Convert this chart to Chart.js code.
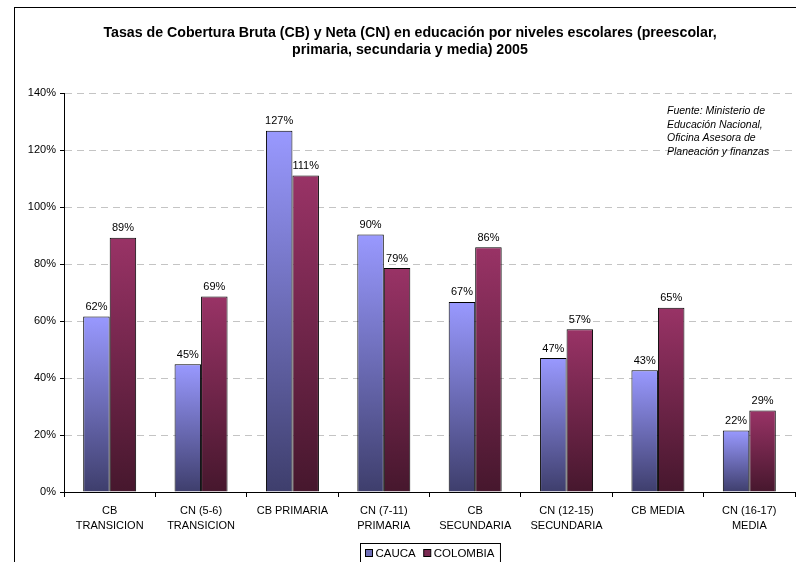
<!DOCTYPE html>
<html lang="es">
<head>
  <meta charset="UTF-8" />
  <title>Tasas de Cobertura</title>
  <style>
    html, body { margin: 0; padding: 0; background: #fff; overflow: hidden; }
    #frame { position: absolute; left: 14px; top: 7px; width: 790px; height: 580px; border: 1px solid #000; }
    canvas { display: block; }
  </style>
</head>
<body>
  <div id="frame"><canvas id="chart" width="790" height="580"></canvas></div>

  <script src="https://cdn.jsdelivr.net/npm/chart.js"></script>
  <script>
    const categorias = [
      ['CB', 'TRANSICION'], ['CN (5-6)', 'TRANSICION'], 'CB PRIMARIA', ['CN (7-11)', 'PRIMARIA'],
      ['CB', 'SECUNDARIA'], ['CN (12-15)', 'SECUNDARIA'], 'CB MEDIA', ['CN (16-17)', 'MEDIA']
    ];
    const cauca    = [61.6, 44.8, 126.8, 90.4, 66.7, 47.0, 42.7, 21.6];
    const colombia = [89.2, 68.6, 111.1, 78.6, 85.9, 57.1, 64.7, 28.6];
    const tituloLineas = [
      'Tasas de Cobertura Bruta (CB) y Neta (CN) en educación por niveles escolares (preescolar,',
      'primaria, secundaria y media) 2005'
    ];
    const fuente = ['Fuente: Ministerio de', 'Educación Nacional,', 'Oficina Asesora de', 'Planeación y finanzas'];
    const yMax = 140, yPaso = 20;

    const FONT = '"Liberation Sans", Arial, sans-serif';
    Chart.defaults.font.family = FONT;
    Chart.defaults.color = '#000';

    function degradado(c, arriba, abajo) {
      const chart = c.chart;
      if (!chart.chartArea || c.raw == null) return arriba;
      const y = chart.scales.y;
      const g = chart.ctx.createLinearGradient(0, y.getPixelForValue(c.raw), 0, y.getPixelForValue(0));
      g.addColorStop(0, arriba);
      g.addColorStop(1, abajo);
      return g;
    }

    // etiquetas de valor sobre las barras
    const etiquetas = {
      id: 'etiquetas',
      afterDatasetsDraw(chart) {
        const ctx = chart.ctx;
        ctx.save();
        ctx.font = '11px ' + FONT;
        ctx.fillStyle = '#000';
        ctx.textAlign = 'center';
        ctx.textBaseline = 'bottom';
        chart.data.datasets.forEach((ds, i) => {
          chart.getDatasetMeta(i).data.forEach((bar, j) => {
            ctx.fillText(Math.round(ds.data[j]) + '%', bar.x, bar.y - 4);
          });
        });
        ctx.restore();
      }
    };

    // nota de fuente y leyenda con marco
    const extras = {
      id: 'extras',
      afterDraw(chart) {
        const ctx = chart.ctx, a = chart.chartArea;
        ctx.save();
        ctx.font = 'italic 10.5px ' + FONT;
        ctx.fillStyle = '#000';
        ctx.textBaseline = 'middle';
        fuente.forEach((t, i) => ctx.fillText(t, a.right - 128, a.top + 18 + i * 13.7));

        ctx.font = '11.5px ' + FONT;
        const items = chart.data.datasets.map(ds => ({ label: ds.label, color: ds.legendColor }));
        const anchos = items.map(it => 11 + ctx.measureText(it.label).width);
        const total = anchos.reduce((s, w) => s + w, 0) + 7 * (items.length - 1) + 10;
        const cx = (a.left + a.right) / 2;
        let x = Math.round(cx - total / 2) + 0.5;
        const y = Math.round(a.bottom + 51) + 0.5;
        ctx.strokeStyle = '#000';
        ctx.lineWidth = 1;
        ctx.strokeRect(x, y, total, 20);
        x += 5;
        items.forEach((it, i) => {
          ctx.fillStyle = it.color;
          ctx.fillRect(x, y + 6, 7, 7);
          ctx.strokeRect(x, y + 6, 7, 7);
          ctx.fillStyle = '#000';
          ctx.fillText(it.label, x + 10, y + 10.5);
          x += anchos[i] + 7;
        });
        ctx.restore();
      }
    };

    new Chart(document.getElementById('chart'), {
      type: 'bar',
      data: {
        labels: categorias,
        datasets: [
          {
            label: 'CAUCA', data: cauca, legendColor: '#6f6fb8',
            backgroundColor: c => degradado(c, '#9999ff', '#3e3e6c'),
            borderColor: '#000', borderWidth: 1, barPercentage: 1, categoryPercentage: 0.58
          },
          {
            label: 'COLOMBIA', data: colombia, legendColor: '#7a2a52',
            backgroundColor: c => degradado(c, '#993366', '#46172d'),
            borderColor: '#000', borderWidth: 1, barPercentage: 1, categoryPercentage: 0.58
          }
        ]
      },
      options: {
        responsive: false,
        animation: false,
        layout: { padding: { left: 10, right: 10 } },
        plugins: {
          legend: { display: false },
          tooltip: { enabled: false },
          title: {
            display: true,
            text: tituloLineas,
            font: { size: 14.2, weight: 'bold' },
            color: '#000',
            lineHeight: 1.23,
            padding: { top: 17, bottom: 34 }
          }
        },
        scales: {
          x: {
            afterFit(s) { s.height = 96; },
            grid: { offset: true, drawOnChartArea: false, drawTicks: true, tickLength: 5, tickColor: '#000' },
            border: { color: '#000', width: 1 },
            ticks: { font: { size: 11, lineHeight: 1.35 }, color: '#000', maxRotation: 0, autoSkip: false, padding: 7 }
          },
          y: {
            min: 0, max: yMax,
            afterFit(s) { s.width = 39; },
            grid: { color: '#c4c4c4', tickColor: '#000', tickLength: 4 },
            border: { color: '#000', width: 1, dash: [7, 5] },
            ticks: { stepSize: yPaso, font: { size: 11 }, color: '#000', padding: 4, callback: v => v + '%' }
          }
        }
      },
      plugins: [etiquetas, extras]
    });
  </script>
</body>
</html>
